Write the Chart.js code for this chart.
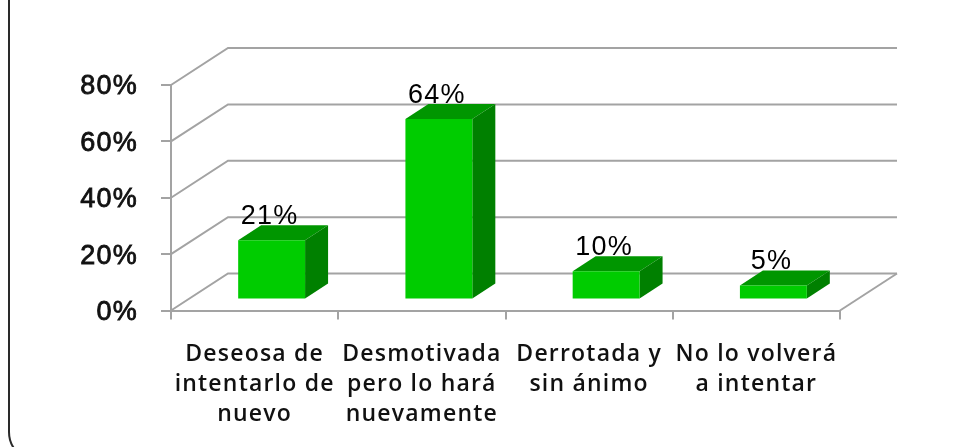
<!DOCTYPE html>
<html><head><meta charset="utf-8">
<style>html,body{margin:0;padding:0;background:#fff;width:956px;height:447px;overflow:hidden}
#wrap{position:relative;width:956px;height:447px;overflow:hidden}
#frame{position:absolute;left:8px;top:-40px;width:1000px;height:498px;border:2.5px solid #2a2a2a;border-radius:30px;box-sizing:content-box}
canvas{position:absolute;left:0;top:0}
</style>
<script src="https://cdn.jsdelivr.net/npm/chart.js@4"></script></head>
<body><div id="wrap"><div id="frame"></div><canvas id="c" width="956" height="447"></canvas></div>
<script>
const categories=[["Deseosa de","intentarlo de","nuevo"],["Desmotivada","pero lo hará","nuevamente"],["Derrotada y","sin ánimo"],["No lo volverá","a intentar"]];
const values=[21,64,10,5];
const valueLabels=["21%","64%","10%","5%"];
const yTicks=[0,20,40,60,80];
const depthWall={x:57,y:-37};
const barShift={x:17,y:-11};
const barDepth={x:23,y:-15};
const gridColor='#a3a3a3';
const wall={id:'wall',
beforeDraw(ch){ch.ctx.letterSpacing='1.2px';},
beforeDatasetsDraw(ch){
  const c=ch.ctx,x=ch.scales.x,y=ch.scales.y,l=x.left,r=x.right;
  c.save();c.strokeStyle=gridColor;c.lineWidth=2;
  for(const t of yTicks){const p=y.getPixelForValue(t);
    c.beginPath();c.moveTo(l,p);c.lineTo(l+depthWall.x,p+depthWall.y);c.lineTo(r+depthWall.x,p+depthWall.y);c.stroke();}
  const b=y.getPixelForValue(0);
  c.beginPath();c.moveTo(r,b);c.lineTo(r+depthWall.x,b+depthWall.y);c.stroke();
  c.restore();
  const m=ch.getDatasetMeta(0);
  c.save();c.translate(barShift.x,barShift.y);
  m.data.forEach(e=>{const h=e.width/2,a=e.x-h,d=e.x+h,t=e.y,u=e.base;
    c.fillStyle='#009600';c.beginPath();c.moveTo(a,t);c.lineTo(a+barDepth.x,t+barDepth.y);c.lineTo(d+barDepth.x,t+barDepth.y);c.lineTo(d,t);c.closePath();c.fill();
    c.fillStyle='#008000';c.beginPath();c.moveTo(d,t);c.lineTo(d+barDepth.x,t+barDepth.y);c.lineTo(d+barDepth.x,u+barDepth.y);c.lineTo(d,u);c.closePath();c.fill();
  });
  c.restore();
  c.save();c.translate(barShift.x,barShift.y);
},afterDatasetsDraw(ch){
  const c=ch.ctx;c.restore();
  const m=ch.getDatasetMeta(0);
  c.save();c.fillStyle='#000';c.font='27px "Liberation Sans"';c.textAlign='center';c.textBaseline='middle';
  m.data.forEach((e,i)=>{c.fillText(valueLabels[i],e.x+barShift.x-2,e.y+barShift.y-24);});
  c.restore();
}};
new Chart(document.getElementById('c'),{type:'bar',
 data:{labels:categories,datasets:[{data:values,backgroundColor:'#00cc00',borderWidth:0,barPercentage:0.4,categoryPercentage:1}]},
 plugins:[wall],
 options:{responsive:false,animation:false,events:[],
  layout:{padding:{top:85,right:116,left:0,bottom:0}},
  plugins:{legend:{display:false},tooltip:{enabled:false},title:{display:false}},
  scales:{
   x:{afterFit(s){s.height=136.5;},
      grid:{display:true,drawOnChartArea:false,color:gridColor,lineWidth:2,tickLength:9,offset:true},
      border:{color:gridColor,width:2},
      ticks:{color:'#111',font:{family:'"Open Sans"',size:23,weight:'600',lineHeight:1.31},padding:20,maxRotation:0,minRotation:0,autoSkip:false}},
   y:{min:0,max:80,afterFit(s){s.width=171;},
      afterBuildTicks(s){s.ticks=yTicks.map(v=>({value:v}));},
      grid:{display:true,drawOnChartArea:false,color:gridColor,lineWidth:2,tickLength:10},
      border:{color:gridColor,width:2},
      ticks:{color:'#111',font:{family:'"Liberation Sans"',size:27},textStrokeColor:'#111',textStrokeWidth:0.8,padding:23,labelOffset:2,callback:v=>v+'%'}}
  }}});
</script></body></html>
